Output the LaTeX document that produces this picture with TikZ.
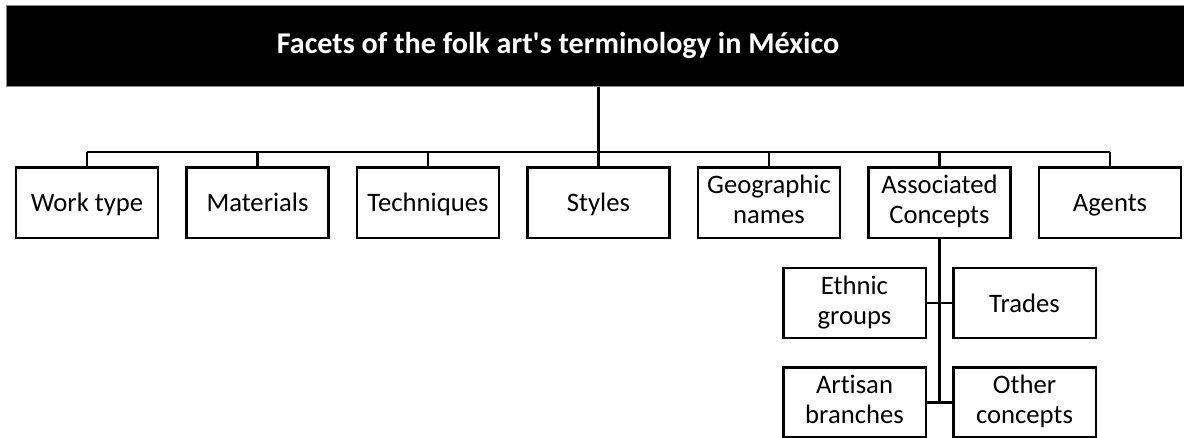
\documentclass[tikz,border=0pt]{standalone}
\usepackage{fontspec}
\setmainfont{Carlito}[Ligatures={NoCommon}]
\usepackage{tikz}
\usetikzlibrary{calc,positioning}
\newcommand{\facetstrut}{\rule[-4.5pt]{0pt}{22.5pt}}
\tikzset{
  facet/.style={draw=black, line width=2pt, fill=white, align=center,
    minimum width=106.5pt, minimum height=53pt, inner sep=2pt,
    font=\fontsize{20}{22.5}\selectfont,
    execute at begin node=\facetstrut, execute at end node=\facetstrut},
  subfacet/.style={facet, minimum width=107pt, minimum height=52.5pt},
  conn/.style={draw=black, line width=2.2pt},
}
\begin{document}
\begin{tikzpicture}[x=0.75pt,y=-0.75pt]
\useasboundingbox (0,0) rectangle (1184,437);
% title bar
\node[fill=black, draw=black!45, line width=0.6pt, minimum width=885pt,
  minimum height=61pt, anchor=north west, inner sep=0pt] (title) at (6,5) {};
\node[text=white, font=\bfseries\fontsize{22.6}{24}\selectfont] (titletext) at (558,45.5)
  {Facets of the folk art\textquotesingle s terminology in México};
% facets
\foreach \nm/\txt [count=\i] in {work/Work type, mat/Materials, tech/Techniques,
  styles/Styles, geo/{Geographic\\names}, assoc/{Associated\\Concepts}, agents/Agents} {
  \node[facet] (\nm) at ({87+170.5*(\i-1)},202.5) {\txt};
}
\coordinate (bus) at (0,152);
\draw[conn] (title.south -| styles.north) -- (styles.north);
\draw[conn] (work.north |- bus) -- (agents.north |- bus);
\foreach \nm in {work,mat,tech,geo,assoc,agents}
  \draw[conn] (\nm.north) -- (\nm.north |- bus);
% associated concepts
\node[subfacet] (ethnic) at (854.5,303) {Ethnic\\groups};
\node[subfacet] (trades) at (1024.5,303) {Trades};
\node[subfacet] (artisan) at (854.5,402.5) {Artisan\\branches};
\node[subfacet] (other) at (1024.5,402.5) {Other\\concepts};
\draw[conn] (assoc.south) -- (assoc.south |- artisan.east);
\draw[conn] (ethnic.east) -- (trades.west);
\draw[conn] (artisan.east) -- (other.west);
\end{tikzpicture}
\end{document}
